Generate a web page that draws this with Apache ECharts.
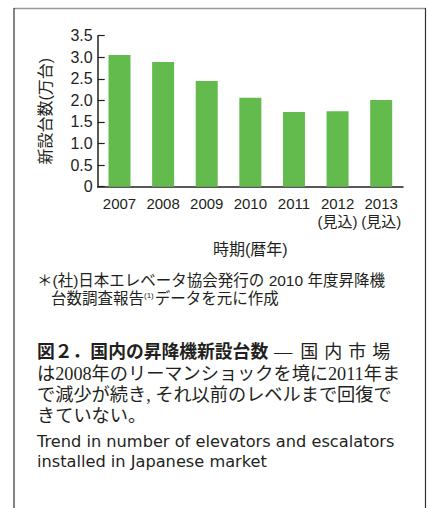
<!DOCTYPE html>
<html>
<head>
<meta charset="utf-8">
<script src="https://cdn.jsdelivr.net/npm/echarts@6/dist/echarts.min.js"></script>
<style>
html,body{margin:0;padding:0;background:#fff;}
#c{width:428px;height:508px;}
</style>
</head>
<body>
<div id="c"></div>
<script>
const categories = ['2007', '2008', '2009', '2010', '2011', '2012\n(見込)', '2013\n(見込)'];
const installed = [3.05, 2.89, 2.45, 2.06, 1.73, 1.75, 2.01];
const yTicks = [0, 0.5, 1.0, 1.5, 2.0, 2.5, 3.0, 3.5];
const yName = '新設台数(万台)';
const xName = '時期(暦年)';
const note1 = '＊(社)日本エレベータ協会発行の 2010 年度昇降機';
const note2a = '台数調査報告';
const note2sup = '(1)';
const note2b = 'データを元に作成';
const capHead = '図２．国内の昇降機新設台数';
const capDash = '—';
const capTail = ['国', '内', '市', '場'];
const capLines = ['は2008年のリーマンショックを境に2011年ま', 'で減少が続き, それ以前のレベルまで回復で', 'きていない。'];
const engLines = ['Trend in number of elevators and escalators', 'installed in Japanese market'];

const sans = '"Liberation Sans", Arial, "Noto Sans CJK JP", sans-serif';
const serif = '"Liberation Serif", "DejaVu Serif", "Noto Sans CJK JP", serif';
const wide = '"DejaVu Sans", "Noto Sans CJK JP", sans-serif';
const txt = '#231f20';

const chart = echarts.init(document.getElementById('c'), null, {renderer: 'svg'});
chart.setOption({
  animation: false,
  backgroundColor: '#fff',
  grid: {left: 97.7, right: 25, top: 35.7, bottom: 321.3, containLabel: false},
  xAxis: {
    type: 'category',
    data: categories,
    name: xName,
    nameLocation: 'middle',
    nameGap: 55,
    nameTextStyle: {fontFamily: sans, fontSize: 16, color: txt},
    axisLine: {lineStyle: {color: '#231f20', width: 1.5}},
    axisTick: {show: false},
    axisLabel: {fontFamily: sans, fontSize: 15, color: txt, margin: 8, lineHeight: 18, interval: 0}
  },
  yAxis: {
    type: 'value',
    min: 0, max: 3.5, interval: 0.5,
    name: yName,
    nameLocation: 'middle',
    nameRotate: 90,
    nameGap: 44,
    nameTextStyle: {fontFamily: sans, fontSize: 16, color: txt},
    axisLine: {show: true, lineStyle: {color: '#231f20', width: 1.5}},
    axisTick: {show: true, inside: true, length: 7, lineStyle: {color: '#231f20', width: 1.2}},
    splitLine: {show: false},
    axisLabel: {
      fontFamily: sans, fontSize: 16, color: txt, margin: 5,
      formatter: v => { const t = yTicks.find(x => Math.abs(x - v) < 1e-9); return t === 0 ? '0' : t.toFixed(1); }
    }
  },
  series: [{
    type: 'bar',
    data: installed,
    barWidth: 22,
    itemStyle: {color: '#62bb4c'}
  }],
  graphic: [
    {type: 'line', shape: {x1: 14, y1: 8.5, x2: 426, y2: 8.5}, style: {stroke: '#9a9a9a', lineWidth: 1.5}},
    {type: 'line', shape: {x1: 14, y1: 8, x2: 14, y2: 508}, style: {stroke: '#333', lineWidth: 1.2}},
    {type: 'line', shape: {x1: 425.5, y1: 8, x2: 425.5, y2: 508}, style: {stroke: '#333', lineWidth: 1.2}},
    {type: 'text', left: 37, top: 273, style: {text: note1, font: '15.5px ' + sans, fill: txt}},
    {type: 'text', left: 51, top: 291, style: {
      text: note2a + '{s|' + note2sup + '}' + note2b,
      font: '15.5px ' + sans, fill: txt,
      rich: {s: {fontSize: 8, verticalAlign: 'top', fontFamily: sans, fill: txt, padding: [0,1,6,0]}}
    }},
    {type: 'text', left: 37, top: 343, style: {
      text: '{b|' + capHead + '}{d|' + capDash + '}' + capTail.map((c, i) => (i < 3 ? '{n|' : '{m|') + c + '}').join(''),
      rich: {
        b: {fontFamily: sans, fontWeight: 'bold', fontSize: 17.8, fill: txt},
        d: {fontFamily: serif, fontSize: 18, fill: txt, padding: [0, 8, 0, 6]},
        n: {fontFamily: serif, fontSize: 18, fill: txt, padding: [0, 6, 0, 0]},
        m: {fontFamily: serif, fontSize: 18, fill: txt}
      }
    }},
    {type: 'text', left: 37, top: 363, style: {text: capLines.join('\n'), font: '18.2px ' + serif, lineHeight: 21, fill: txt}},
    {type: 'text', left: 37, top: 431, style: {text: engLines.join('\n'), font: '16.2px ' + wide, lineHeight: 20, fill: txt}}
  ]
});
</script>
</body>
</html>
